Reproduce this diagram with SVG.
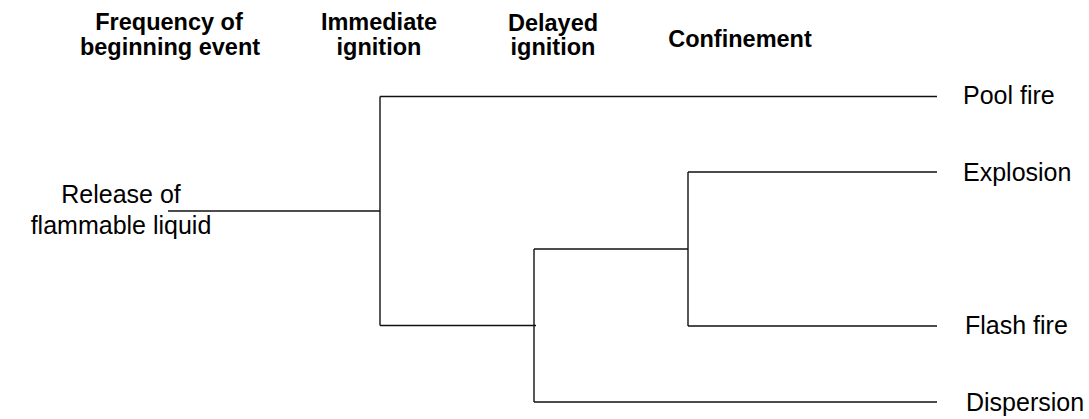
<svg xmlns="http://www.w3.org/2000/svg" width="1089" height="419" viewBox="0 0 1089 419">
  <style>
    .hdr { font-family: "Liberation Sans", Arial, sans-serif; font-weight: bold; font-size: 23.5px; fill: #000; text-anchor: middle; }
    .lbl { font-family: "Liberation Sans", Arial, sans-serif; font-size: 25px; fill: #000; }
    .ln { fill: none; stroke: #111; stroke-width: 1.4; stroke-linecap: butt; }
  </style>
  <rect width="1089" height="419" fill="#fff"/>

  <g id="header-frequency">
    <text class="hdr" x="169" y="30">Frequency of</text>
    <text class="hdr" x="170" y="55">beginning event</text>
  </g>
  <g id="header-immediate">
    <text class="hdr" x="379" y="30">Immediate</text>
    <text class="hdr" x="379" y="55">ignition</text>
  </g>
  <g id="header-delayed">
    <text class="hdr" x="553" y="31">Delayed</text>
    <text class="hdr" x="553" y="55">ignition</text>
  </g>
  <g id="header-confinement">
    <text class="hdr" x="740" y="47">Confinement</text>
  </g>

  <g id="connectors">
    <path class="ln" d="M168 211 H380"/>
    <path class="ln" d="M380 96.5 V325.5"/>
    <path class="ln" d="M380 96.5 H937"/>
    <path class="ln" d="M380 325.5 H536"/>
    <path class="ln" d="M534 249 V402"/>
    <path class="ln" d="M534 249 H688"/>
    <path class="ln" d="M688 172 V326"/>
    <path class="ln" d="M688 172 H937"/>
    <path class="ln" d="M688 326 H937"/>
    <path class="ln" d="M534 402 H937"/>
  </g>

  <g id="node-release">
    <text class="lbl" x="121" y="203" text-anchor="middle">Release of</text>
    <text class="lbl" x="121" y="234" text-anchor="middle">flammable liquid</text>
  </g>
  <g id="node-pool-fire">
    <text class="lbl" x="963" y="104">Pool fire</text>
  </g>
  <g id="node-explosion">
    <text class="lbl" x="963" y="180.5">Explosion</text>
  </g>
  <g id="node-flash-fire">
    <text class="lbl" x="965" y="334">Flash fire</text>
  </g>
  <g id="node-dispersion">
    <text class="lbl" x="966" y="411">Dispersion</text>
  </g>
</svg>
